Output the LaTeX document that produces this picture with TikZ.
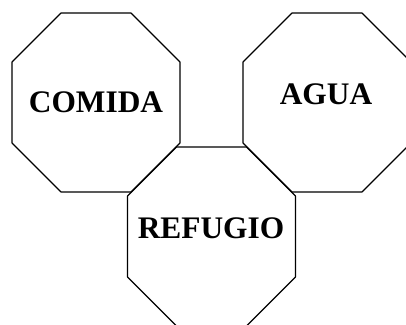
\documentclass[tikz,border=0pt]{standalone}
\usepackage{fontspec}
\setmainfont{Liberation Serif}
\usepackage{tikz}
\usetikzlibrary{calc}

\begin{document}
\begin{tikzpicture}[x=1bp, y=1bp, line cap=round, line join=round]
    % Styles
    \tikzset{
        octagon/.style={line width=1.1bp, black},
        label/.style={font=\fontsize{31.5}{36}\selectfont\bfseries, inner sep=0pt, anchor=base}
    }

    % Frame (origin at bottom-left corner)
    \useasboundingbox (0,0) rectangle (406,325);
    \clip (0,0) rectangle (406,325);

    % Centers of the three octagons
    \coordinate (comida_center) at (96, 222.5);
    \coordinate (agua_center) at (327, 222.5);
    \coordinate (refugio_center) at (211.5, 88.5);

    % --- Comida ---
    \draw[octagon, shift={(comida_center)}]
        (-35,89.5) -- (35,89.5) -- (84,40.5) -- (84,-40.5) -- (35,-89.5)
        -- (-35,-89.5) -- (-84,-40.5) -- (-84,40.5) -- cycle;
    \node[label] (comida) at (96, 213) {COMIDA};

    % --- Agua ---
    \draw[octagon, shift={(agua_center)}]
        (-35,89.5) -- (35,89.5) -- (84,40.5) -- (84,-40.5) -- (35,-89.5)
        -- (-35,-89.5) -- (-84,-40.5) -- (-84,40.5) -- cycle;
    \node[label] (agua) at (326, 221) {AGUA};

    % --- Refugio ---
    \draw[octagon, shift={(refugio_center)}]
        (-35,89.5) -- (35,89.5) -- (84,40.5) -- (84,-40.5) -- (35,-89.5)
        -- (-35,-89.5) -- (-84,-40.5) -- (-84,40.5) -- cycle;
    \node[label] (refugio) at (211, 87) {REFUGIO};

\end{tikzpicture}
\end{document}
